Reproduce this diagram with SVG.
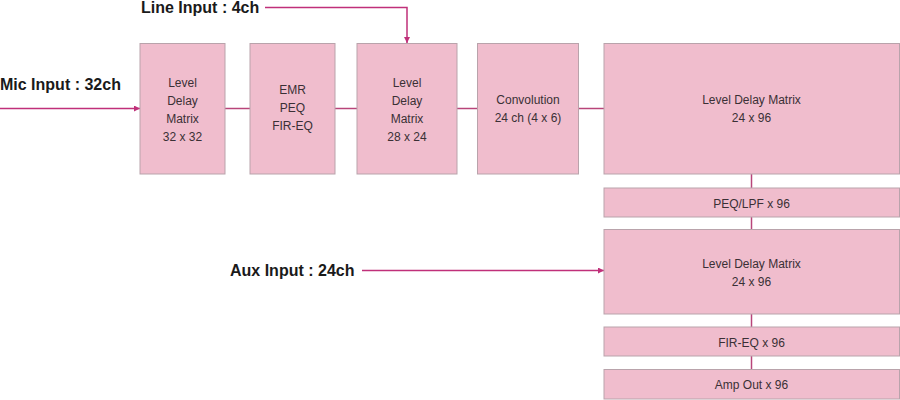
<svg xmlns="http://www.w3.org/2000/svg" width="900" height="400" viewBox="0 0 900 400">
<style>
.box{fill:#f0bdcd;stroke:#b9a3ab;stroke-width:1}
.t{font-family:"Liberation Sans",Arial,sans-serif;font-size:12px;fill:#3a3035;text-anchor:middle}
.lbl{font-family:"Liberation Sans",Arial,sans-serif;font-size:16px;font-weight:bold;fill:#1a1a1a}
.c{stroke:#b8457a;stroke-width:1.5;fill:none}
.a{stroke:#c0307a;stroke-width:1.5;fill:none}
</style>
<defs>
<marker id="ah" viewBox="0 0 10 10" refX="10" refY="5" markerWidth="6" markerHeight="6" orient="auto" markerUnits="userSpaceOnUse">
<path d="M0,0 L10,5 L0,10 z" fill="#c0307a"/>
</marker>
</defs>
<g id="connectors">
<line class="a" x1="0" y1="108.5" x2="140" y2="108.5" marker-end="url(#ah)"/>
<polyline class="a" points="265,7.5 407,7.5 407,43" marker-end="url(#ah)"/>
<line class="a" x1="362" y1="270.5" x2="604" y2="270.5" marker-end="url(#ah)"/>
<line class="c" x1="225" y1="108.5" x2="250" y2="108.5"/>
<line class="c" x1="335" y1="108.5" x2="357" y2="108.5"/>
<line class="c" x1="457" y1="108.5" x2="477" y2="108.5"/>
<line class="c" x1="578" y1="108.5" x2="604" y2="108.5"/>
<line class="c" x1="751.5" y1="174" x2="751.5" y2="188"/>
<line class="c" x1="751.5" y1="217" x2="751.5" y2="229"/>
<line class="c" x1="751.5" y1="314" x2="751.5" y2="327"/>
<line class="c" x1="751.5" y1="356" x2="751.5" y2="369"/>
</g>
<g id="labels">
<text class="lbl" x="0" y="89.5">Mic Input : 32ch</text>
<text class="lbl" x="141" y="13">Line Input : 4ch</text>
<text class="lbl" x="230" y="276">Aux Input : 24ch</text>
</g>
<g id="ldm32">
<rect class="box" x="140" y="43.5" width="85" height="130.5"/>
<text class="t" x="182.5" y="87">Level</text>
<text class="t" x="182.5" y="105">Delay</text>
<text class="t" x="182.5" y="123">Matrix</text>
<text class="t" x="182.5" y="141">32 x 32</text>
</g>
<g id="emr">
<rect class="box" x="250" y="43.5" width="85" height="130.5"/>
<text class="t" x="292.5" y="94">EMR</text>
<text class="t" x="292.5" y="112">PEQ</text>
<text class="t" x="292.5" y="130">FIR-EQ</text>
</g>
<g id="ldm28">
<rect class="box" x="357" y="43.5" width="100" height="130.5"/>
<text class="t" x="407" y="87">Level</text>
<text class="t" x="407" y="105">Delay</text>
<text class="t" x="407" y="123">Matrix</text>
<text class="t" x="407" y="141">28 x 24</text>
</g>
<g id="conv">
<rect class="box" x="477.5" y="43.5" width="101" height="130.5"/>
<text class="t" x="528" y="104">Convolution</text>
<text class="t" x="528" y="122">24 ch (4 x 6)</text>
</g>
<g id="ldm96a">
<rect class="box" x="604" y="43.5" width="295.5" height="130.5"/>
<text class="t" x="751.5" y="104">Level Delay Matrix</text>
<text class="t" x="751.5" y="122">24 x 96</text>
</g>
<g id="peq">
<rect class="box" x="604" y="188" width="295.5" height="29"/>
<text class="t" x="751.5" y="207.5">PEQ/LPF x 96</text>
</g>
<g id="ldm96b">
<rect class="box" x="604" y="229.5" width="295.5" height="84.5"/>
<text class="t" x="751.5" y="267.5">Level Delay Matrix</text>
<text class="t" x="751.5" y="286">24 x 96</text>
</g>
<g id="fir">
<rect class="box" x="604" y="327" width="295.5" height="29"/>
<text class="t" x="751.5" y="347">FIR-EQ x 96</text>
</g>
<g id="amp">
<rect class="box" x="604" y="369.5" width="295.5" height="29.5"/>
<text class="t" x="751.5" y="389">Amp Out x 96</text>
</g>
</svg>
